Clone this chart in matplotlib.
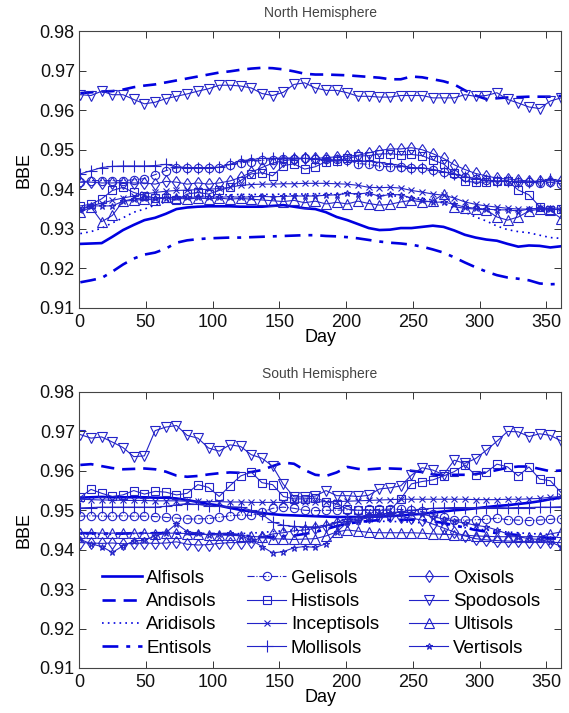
import numpy as np
import matplotlib
matplotlib.use("Agg")
import matplotlib.pyplot as plt

plt.rcParams['font.family'] = ['Liberation Sans', 'DejaVu Sans']

# 8-day composite days
days = list(range(1, 362, 8))

soils = ['Alfisols', 'Andisols', 'Aridisols', 'Entisols', 'Gelisols', 'Histisols',
         'Inceptisols', 'Mollisols', 'Oxisols', 'Spodosols', 'Ultisols', 'Vertisols']

# ---- North Hemisphere ----
alfisols_n = [0.9262, 0.9263, 0.9264, 0.9280, 0.9297, 0.9310, 0.9322, 0.9328, 0.9338, 0.9350,
              0.9354, 0.9356, 0.9357, 0.9357, 0.9357, 0.9356, 0.9356, 0.9356, 0.9358, 0.9360,
              0.9356, 0.9352, 0.9350, 0.9342, 0.9330, 0.9322, 0.9312, 0.9302, 0.9297, 0.9298,
              0.9302, 0.9302, 0.9305, 0.9308, 0.9305, 0.9296, 0.9285, 0.9278, 0.9273, 0.9270,
              0.9262, 0.9255, 0.9258, 0.9257, 0.9253, 0.9256]
andisols_n = [0.9643, 0.9645, 0.9647, 0.9648, 0.9652, 0.9658, 0.9662, 0.9665, 0.9670, 0.9675,
              0.9680, 0.9685, 0.9690, 0.9695, 0.9698, 0.9702, 0.9705, 0.9707, 0.9706, 0.9703,
              0.9698, 0.9692, 0.9690, 0.9690, 0.9689, 0.9688, 0.9686, 0.9684, 0.9682, 0.9678,
              0.9678, 0.9685, 0.9683, 0.9678, 0.9673, 0.9665, 0.9650, 0.9637, 0.9628, 0.9630,
              0.9632, 0.9633, 0.9634, 0.9634, 0.9634, 0.9636]
aridisols_n = [0.9288, 0.9293, 0.9302, 0.9315, 0.9328, 0.9342, 0.9350, 0.9360, 0.9368, 0.9376,
               0.9380, 0.9383, 0.9385, 0.9386, 0.9386, 0.9387, 0.9387, 0.9387, 0.9387, 0.9388,
               0.9388, 0.9388, 0.9389, 0.9389, 0.9389, 0.9389, 0.9388, 0.9386, 0.9385, 0.9384,
               0.9382, 0.9380, 0.9377, 0.9373, 0.9365, 0.9352, 0.9342, 0.9330, 0.9320, 0.9307,
               0.9298, 0.9293, 0.9290, 0.9284, 0.9278, 0.9276]
entisols_n = [0.9165, 0.9170, 0.9176, 0.9192, 0.9210, 0.9225, 0.9235, 0.9240, 0.9250, 0.9265,
              0.9271, 0.9274, 0.9276, 0.9277, 0.9278, 0.9278, 0.9279, 0.9280, 0.9281, 0.9282,
              0.9283, 0.9284, 0.9284, 0.9282, 0.9281, 0.9279, 0.9276, 0.9272, 0.9268, 0.9265,
              0.9263, 0.9260, 0.9255, 0.9248, 0.9240, 0.9228, 0.9215, 0.9203, 0.9192, 0.9183,
              0.9177, 0.9174, 0.9170, 0.9162, 0.9160, 0.9161]
gelisols_n = [0.9418, 0.9422, 0.9422, 0.9422, 0.9422, 0.9424, 0.9427, 0.9437, 0.9447, 0.9454,
              0.9455, 0.9454, 0.9454, 0.9455, 0.9462, 0.9467, 0.9470, 0.9473, 0.9475, 0.9476,
              0.9477, 0.9478, 0.9477, 0.9476, 0.9476, 0.9474, 0.9465, 0.9463, 0.9458, 0.9457,
              0.9456, 0.9455, 0.9454, 0.9450, 0.9444, 0.9439, 0.9432, 0.9426, 0.9423, 0.9421,
              0.9420, 0.9419, 0.9418, 0.9416, 0.9418, 0.9414]
histisols_n = [0.9358, 0.9362, 0.9376, 0.9397, 0.9405, 0.9392, 0.9384, 0.9378, 0.9378, 0.9373,
               0.9388, 0.9392, 0.9388, 0.9397, 0.9405, 0.9422, 0.9439, 0.9442, 0.9434, 0.9460,
               0.9464, 0.9451, 0.9457, 0.9470, 0.9472, 0.9478, 0.9484, 0.9485, 0.9489, 0.9490,
               0.9487, 0.9488, 0.9485, 0.9474, 0.9464, 0.9440, 0.9420, 0.9418, 0.9418, 0.9420,
               0.9422, 0.9398, 0.9386, 0.9356, 0.9348, 0.9350]
inceptisols_n = [0.9352, 0.9358, 0.9365, 0.9372, 0.9378, 0.9383, 0.9388, 0.9392, 0.9395, 0.9397,
                 0.9398, 0.9399, 0.9400, 0.9402, 0.9405, 0.9410, 0.9412, 0.9413, 0.9413, 0.9414,
                 0.9414, 0.9415, 0.9415, 0.9415, 0.9414, 0.9413, 0.9410, 0.9405, 0.9404, 0.9405,
                 0.9403, 0.9397, 0.9393, 0.9388, 0.9385, 0.9378, 0.9368, 0.9362, 0.9358, 0.9355,
                 0.9352, 0.9350, 0.9350, 0.9352, 0.9353, 0.9352]
mollisols_n = [0.9439, 0.9447, 0.9455, 0.9458, 0.9459, 0.9459, 0.9459, 0.9460, 0.9463, 0.9457,
               0.9455, 0.9455, 0.9455, 0.9456, 0.9463, 0.9472, 0.9475, 0.9478, 0.9478, 0.9479,
               0.9479, 0.9478, 0.9476, 0.9475, 0.9474, 0.9473, 0.9472, 0.9471, 0.9468, 0.9464,
               0.9460, 0.9455, 0.9454, 0.9450, 0.9444, 0.9439, 0.9432, 0.9426, 0.9423, 0.9421,
               0.9420, 0.9419, 0.9419, 0.9420, 0.9425, 0.9422]
oxisols_n = [0.9418, 0.9418, 0.9416, 0.9416, 0.9417, 0.9416, 0.9416, 0.9413, 0.9420, 0.9418,
             0.9413, 0.9416, 0.9413, 0.9416, 0.9421, 0.9430, 0.9443, 0.9455, 0.9466, 0.9472,
             0.9476, 0.9478, 0.9478, 0.9480, 0.9482, 0.9484, 0.9486, 0.9492, 0.9498, 0.9502,
             0.9502, 0.9505, 0.9500, 0.9490, 0.9478, 0.9462, 0.9450, 0.9440, 0.9434, 0.9428,
             0.9426, 0.9423, 0.9421, 0.9420, 0.9422, 0.9420]
spodosols_n = [0.9639, 0.9637, 0.9648, 0.9639, 0.9639, 0.9627, 0.9616, 0.9620, 0.9629, 0.9635,
               0.9641, 0.9648, 0.9654, 0.9663, 0.9663, 0.9661, 0.9656, 0.9642, 0.9637, 0.9645,
               0.9665, 0.9669, 0.9656, 0.9650, 0.9650, 0.9644, 0.9635, 0.9635, 0.9633, 0.9633,
               0.9637, 0.9637, 0.9637, 0.9631, 0.9631, 0.9631, 0.9639, 0.9635, 0.9637, 0.9644,
               0.9627, 0.9618, 0.9608, 0.9604, 0.9623, 0.9631]
ultisols_n = [0.9342, 0.9355, 0.9318, 0.9334, 0.9370, 0.9372, 0.9375, 0.9373, 0.9380, 0.9378,
              0.9375, 0.9378, 0.9376, 0.9378, 0.9375, 0.9377, 0.9375, 0.9373, 0.9371, 0.9369,
              0.9372, 0.9366, 0.9370, 0.9363, 0.9367, 0.9363, 0.9370, 0.9364, 0.9360, 0.9362,
              0.9368, 0.9372, 0.9368, 0.9370, 0.9388, 0.9356, 0.9352, 0.9350, 0.9348, 0.9330,
              0.9322, 0.9330, 0.9345, 0.9350, 0.9347, 0.9326]
vertisols_n = [0.9348, 0.9358, 0.9358, 0.9358, 0.9370, 0.9376, 0.9378, 0.9378, 0.9379, 0.9380,
               0.9380, 0.9380, 0.9381, 0.9380, 0.9381, 0.9380, 0.9381, 0.9382, 0.9381, 0.9382,
               0.9383, 0.9383, 0.9383, 0.9385, 0.9386, 0.9390, 0.9388, 0.9391, 0.9382, 0.9387,
               0.9386, 0.9378, 0.9372, 0.9367, 0.9368, 0.9362, 0.9355, 0.9352, 0.9350, 0.9348,
               0.9348, 0.9345, 0.9350, 0.9352, 0.9350, 0.9348]

# ---- South Hemisphere ----
alfisols_s = [0.9532, 0.9533, 0.9534, 0.9533, 0.9533, 0.9533, 0.9533, 0.9532, 0.9532, 0.9530,
              0.9526, 0.9521, 0.9516, 0.9512, 0.9506, 0.9501, 0.9497, 0.9493, 0.9490, 0.9488,
              0.9487, 0.9486, 0.9485, 0.9484, 0.9483, 0.9483, 0.9483, 0.9484, 0.9484, 0.9485,
              0.9487, 0.9489, 0.9491, 0.9494, 0.9497, 0.9500, 0.9502, 0.9505, 0.9508, 0.9511,
              0.9513, 0.9516, 0.9519, 0.9523, 0.9528, 0.9532]
andisols_s = [0.9615, 0.9617, 0.9612, 0.9607, 0.9604, 0.9605, 0.9606, 0.9604, 0.9598, 0.9588,
              0.9585, 0.9587, 0.9591, 0.9594, 0.9596, 0.9595, 0.9597, 0.9602, 0.9612, 0.9621,
              0.9618, 0.9602, 0.9590, 0.9587, 0.9596, 0.9610, 0.9605, 0.9604, 0.9606, 0.9606,
              0.9605, 0.9600, 0.9597, 0.9591, 0.9589, 0.9590, 0.9590, 0.9592, 0.9596, 0.9602,
              0.9608, 0.9611, 0.9611, 0.9605, 0.9599, 0.9601]
aridisols_s = [0.9440, 0.9440, 0.9439, 0.9439, 0.9440, 0.9441, 0.9442, 0.9443, 0.9444, 0.9444,
               0.9443, 0.9442, 0.9441, 0.9440, 0.9440, 0.9441, 0.9442, 0.9444, 0.9446, 0.9448,
               0.9450, 0.9452, 0.9455, 0.9458, 0.9462, 0.9466, 0.9469, 0.9471, 0.9472, 0.9472,
               0.9471, 0.9470, 0.9468, 0.9466, 0.9463, 0.9460, 0.9456, 0.9453, 0.9450, 0.9447,
               0.9445, 0.9443, 0.9441, 0.9440, 0.9439, 0.9438]
entisols_s = [0.9442, 0.9442, 0.9441, 0.9441, 0.9441, 0.9442, 0.9442, 0.9442, 0.9442, 0.9441,
              0.9440, 0.9440, 0.9440, 0.9440, 0.9439, 0.9437, 0.9434, 0.9432, 0.9432, 0.9434,
              0.9436, 0.9440, 0.9445, 0.9452, 0.9460, 0.9466, 0.9470, 0.9473, 0.9475, 0.9476,
              0.9476, 0.9476, 0.9475, 0.9472, 0.9468, 0.9462, 0.9456, 0.9450, 0.9446, 0.9442,
              0.9440, 0.9437, 0.9434, 0.9432, 0.9430, 0.9430]
gelisols_s = [0.9485, 0.9486, 0.9485, 0.9485, 0.9486, 0.9485, 0.9485, 0.9484, 0.9482, 0.9480,
              0.9478, 0.9478, 0.9479, 0.9482, 0.9486, 0.9488, 0.9487, 0.9495, 0.9505, 0.9508,
              0.9505, 0.9500, 0.9499, 0.9500, 0.9500, 0.9501, 0.9500, 0.9502, 0.9502, 0.9503,
              0.9502, 0.9500, 0.9497, 0.9490, 0.9482, 0.9476, 0.9475, 0.9476, 0.9477, 0.9480,
              0.9476, 0.9475, 0.9474, 0.9475, 0.9477, 0.9479]
histisols_s = [0.9533, 0.9553, 0.9543, 0.9535, 0.9539, 0.9550, 0.9541, 0.9548, 0.9546, 0.9539,
               0.9543, 0.9565, 0.9558, 0.9535, 0.9562, 0.9587, 0.9597, 0.9570, 0.9565, 0.9535,
               0.9529, 0.9529, 0.9531, 0.9522, 0.9516, 0.9503, 0.9500, 0.9500, 0.9500, 0.9500,
               0.9529, 0.9567, 0.9573, 0.9577, 0.9587, 0.9598, 0.9615, 0.9589, 0.9596, 0.9617,
               0.9610, 0.9587, 0.9610, 0.9579, 0.9575, 0.9545]
inceptisols_s = [0.9528, 0.9527, 0.9526, 0.9526, 0.9525, 0.9525, 0.9525, 0.9524, 0.9524, 0.9524,
                 0.9523, 0.9523, 0.9522, 0.9522, 0.9521, 0.9521, 0.9520, 0.9520, 0.9520, 0.9520,
                 0.9520, 0.9521, 0.9521, 0.9522, 0.9522, 0.9523, 0.9524, 0.9525, 0.9526, 0.9527,
                 0.9528, 0.9528, 0.9528, 0.9528, 0.9528, 0.9528, 0.9528, 0.9527, 0.9527, 0.9527,
                 0.9528, 0.9528, 0.9529, 0.9530, 0.9533, 0.9535]
mollisols_s = [0.9506, 0.9507, 0.9508, 0.9508, 0.9508, 0.9508, 0.9508, 0.9508, 0.9510, 0.9514,
               0.9517, 0.9515, 0.9511, 0.9510, 0.9509, 0.9508, 0.9500, 0.9490, 0.9470, 0.9462,
               0.9459, 0.9458, 0.9458, 0.9462, 0.9470, 0.9478, 0.9483, 0.9487, 0.9490, 0.9492,
               0.9496, 0.9500, 0.9503, 0.9505, 0.9506, 0.9507, 0.9507, 0.9506, 0.9507, 0.9507,
               0.9506, 0.9507, 0.9507, 0.9508, 0.9508, 0.9509]
oxisols_s = [0.9418, 0.9417, 0.9416, 0.9417, 0.9415, 0.9416, 0.9417, 0.9416, 0.9417, 0.9420,
             0.9414, 0.9412, 0.9413, 0.9416, 0.9418, 0.9418, 0.9420, 0.9432, 0.9440, 0.9443,
             0.9448, 0.9450, 0.9454, 0.9460, 0.9468, 0.9472, 0.9478, 0.9482, 0.9485, 0.9486,
             0.9484, 0.9480, 0.9475, 0.9465, 0.9455, 0.9445, 0.9435, 0.9428, 0.9425, 0.9423,
             0.9422, 0.9421, 0.9420, 0.9420, 0.9419, 0.9418]
spodosols_s = [0.9692, 0.9683, 0.9686, 0.9673, 0.9659, 0.9636, 0.9638, 0.9702, 0.9711, 0.9715,
               0.9690, 0.9683, 0.9658, 0.9650, 0.9666, 0.9662, 0.9641, 0.9632, 0.9612, 0.9566,
               0.9534, 0.9534, 0.9536, 0.9550, 0.9537, 0.9537, 0.9535, 0.9538, 0.9554, 0.9557,
               0.9562, 0.9589, 0.9608, 0.9602, 0.9590, 0.9627, 0.9619, 0.9631, 0.9652, 0.9675,
               0.9700, 0.9699, 0.9687, 0.9694, 0.9690, 0.9676]
ultisols_s = [0.9442, 0.9443, 0.9442, 0.9442, 0.9443, 0.9442, 0.9442, 0.9441, 0.9442, 0.9442,
              0.9441, 0.9440, 0.9438, 0.9438, 0.9437, 0.9436, 0.9434, 0.9432, 0.9428, 0.9427,
              0.9426, 0.9427, 0.9428, 0.9435, 0.9445, 0.9450, 0.9447, 0.9444, 0.9443, 0.9443,
              0.9443, 0.9443, 0.9442, 0.9440, 0.9439, 0.9438, 0.9437, 0.9435, 0.9434, 0.9433,
              0.9433, 0.9433, 0.9433, 0.9433, 0.9440, 0.9445]
vertisols_s = [0.9426, 0.9415, 0.9408, 0.9393, 0.9410, 0.9422, 0.9424, 0.9435, 0.9443, 0.9466,
               0.9446, 0.9442, 0.9438, 0.9441, 0.9442, 0.9436, 0.9425, 0.9408, 0.9392, 0.9395,
               0.9405, 0.9408, 0.9406, 0.9415, 0.9445, 0.9470, 0.9474, 0.9482, 0.9488, 0.9494,
               0.9496, 0.9493, 0.9490, 0.9484, 0.9478, 0.9472, 0.9468, 0.9462, 0.9458, 0.9450,
               0.9440, 0.9433, 0.9428, 0.9426, 0.9420, 0.9408]

north = [alfisols_n, andisols_n, aridisols_n, entisols_n, gelisols_n, histisols_n,
         inceptisols_n, mollisols_n, oxisols_n, spodosols_n, ultisols_n, vertisols_n]
south = [alfisols_s, andisols_s, aridisols_s, entisols_s, gelisols_s, histisols_s,
         inceptisols_s, mollisols_s, oxisols_s, spodosols_s, ultisols_s, vertisols_s]

thick = '#0000e0'
thin = '#2323c8'
styles = [
    dict(ls='-', lw=1.9, color=thick),
    dict(ls=(0, (5, 3)), lw=1.9, color=thick),
    dict(ls=(0, (1, 2.5)), lw=1.2, color=thick),
    dict(ls=(0, (6, 3, 1.5, 3)), lw=1.9, color=thick),
    dict(ls='-.', lw=0.8, color=thin, marker='o', ms=6),
    dict(ls='-', lw=0.8, color=thin, marker='s', ms=6),
    dict(ls='-', lw=0.8, color=thin, marker='x', ms=4),
    dict(ls='-', lw=0.8, color=thin, marker='+', ms=8),
    dict(ls='-', lw=0.8, color=thin, marker='d', ms=6),
    dict(ls='-', lw=0.8, color=thin, marker='v', ms=7),
    dict(ls='-', lw=0.8, color=thin, marker='^', ms=7),
    dict(ls='-', lw=0.8, color=thin, marker='*', ms=5),
]

fig = plt.figure(figsize=(5.69, 7.13), dpi=100)
ax1 = fig.add_axes([79/569, 1-308/713, 482/569, 277/713])
ax2 = fig.add_axes([79/569, 1-668/713, 482/569, 276/713])

for ax, series, title in [(ax1, north, 'North Hemisphere'), (ax2, south, 'South Hemisphere')]:
    for name, vals, st in zip(soils, series, styles):
        ax.plot(days, vals, label=name, mfc='none', mew=0.8, **st)
    ax.set_xlim(0, 361)
    ax.set_ylim(0.91, 0.98)
    ax.set_xticks(np.arange(0, 351, 50))
    ax.set_yticks(np.arange(0.91, 0.9801, 0.01))
    ax.set_yticklabels(['%.2f' % v for v in np.arange(0.91, 0.9801, 0.01)])
    ax.tick_params(direction='in', top=True, right=True, length=5, width=0.7,
                   labelsize=13, colors='#333333', labelcolor='#111111')
    ax.tick_params(axis='x', pad=4)
    ax.tick_params(axis='y', pad=3)
    for sp in ax.spines.values():
        sp.set_color('#444444')
        sp.set_linewidth(0.8)
    ax.set_title(title, fontsize=10, color='#444444', pad=10)
    ax.set_xlabel('Day', fontsize=13, labelpad=-1)
    ax.set_ylabel('BBE', fontsize=13, labelpad=5)

ax2.legend(ncol=3, loc='lower left', bbox_to_anchor=(0.025, 0.0), frameon=False,
           fontsize=13.5, numpoints=1, handlelength=2.1, handletextpad=0.25,
           columnspacing=1.6, labelspacing=0.33, borderaxespad=0.2)

fig.savefig('out.png', dpi=100)
